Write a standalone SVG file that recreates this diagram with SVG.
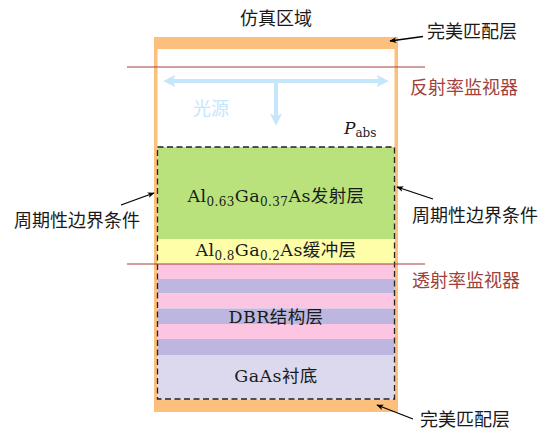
<svg xmlns="http://www.w3.org/2000/svg" width="552" height="432" viewBox="0 0 552 432">
  <defs>
    <style>
      text { font-family: "Noto Sans CJK SC", sans-serif; font-size: 18px; fill: #1a1a1a; }
      .layer { font-family: "DejaVu Serif", "Noto Sans CJK SC", serif; font-size: 17.5px; text-anchor: middle; letter-spacing: 0.4px; }
      .sub { font-size: 12px; }
      .math { font-family: "DejaVu Serif", serif; font-size: 17px; font-style: italic; }
      .math tspan { font-style: normal; font-size: 12px; }
      .mon { fill: #a0413c; }
      .src { fill: #c6e6fb; }
      .lead { stroke: #000; stroke-width: 1.3; fill: none; marker-end: url(#tip); }
      .monline { stroke: #a0413c; stroke-width: 1; }
      .beam { stroke: #c6e6fb; stroke-width: 4; fill: none; }
    </style>
    <marker id="tip" viewBox="0 0 10 10" refX="9" refY="5" markerWidth="7" markerHeight="7" orient="auto" markerUnits="userSpaceOnUse">
      <path d="M0,1 L10,5 L0,9 L2.5,5 Z" fill="#000"/>
    </marker>
    <marker id="btip" viewBox="0 0 10 10" refX="6" refY="5" markerWidth="3" markerHeight="3" orient="auto-start-reverse">
      <path d="M0,0 L10,5 L0,10 L2,5 Z" fill="#c6e6fb"/>
    </marker>
  </defs>

  <!-- simulation domain with PML frame -->
  <g id="domain">
    <rect x="154" y="37" width="244" height="375" fill="#fdbf7c"/>
    <rect x="157.5" y="49" width="237" height="351" fill="#ffffff"/>
    <text x="240" y="25">仿真区域</text>
  </g>

  <!-- layer stack -->
  <g id="emitter">
    <rect x="157.5" y="147" width="237" height="92" fill="#b9e27c"/>
    <text class="layer" x="276" y="202">Al<tspan class="sub" dy="3.5">0.63</tspan><tspan dy="-3.5">Ga</tspan><tspan class="sub" dy="3.5">0.37</tspan><tspan dy="-3.5">As发射层</tspan></text>
  </g>
  <g id="buffer">
    <rect x="157.5" y="239" width="237" height="25" fill="#fefea9"/>
    <text class="layer" x="276" y="256">Al<tspan class="sub" dy="3.5">0.8</tspan><tspan dy="-3.5">Ga</tspan><tspan class="sub" dy="3.5">0.2</tspan><tspan dy="-3.5">As缓冲层</tspan></text>
  </g>
  <g id="dbr">
    <rect x="157.5" y="264" width="237" height="15" fill="#fcc6e2"/>
    <rect x="157.5" y="279" width="237" height="14.5" fill="#bdb6df"/>
    <rect x="157.5" y="293.5" width="237" height="15" fill="#fcc6e2"/>
    <rect x="157.5" y="308.5" width="237" height="15.5" fill="#bdb6df"/>
    <rect x="157.5" y="324" width="237" height="15" fill="#fcc6e2"/>
    <rect x="157.5" y="339" width="237" height="16" fill="#bdb6df"/>
    <text class="layer" x="276" y="323" letter-spacing="1">DBR结构层</text>
  </g>
  <g id="substrate">
    <rect x="157.5" y="355" width="237" height="45" fill="#dcd8ee"/>
    <text class="layer" x="276" y="382" letter-spacing="1">GaAs衬底</text>
  </g>

  <!-- absorption box -->
  <g id="pabs">
    <rect x="157.5" y="147" width="237" height="252" fill="none" stroke="#222" stroke-width="1.3" stroke-dasharray="6,3.5"/>
    <text class="math" x="344" y="134">P<tspan dy="3">abs</tspan></text>
  </g>

  <!-- light source -->
  <g id="source">
    <line class="beam" x1="168" y1="81" x2="384" y2="81" marker-start="url(#btip)" marker-end="url(#btip)"/>
    <line class="beam" x1="276" y1="81" x2="276" y2="121" marker-end="url(#btip)"/>
    <text class="src" x="193" y="114.5">光源</text>
  </g>

  <!-- monitors -->
  <g id="reflection-monitor">
    <line class="monline" x1="127" y1="67" x2="425" y2="67"/>
    <text class="mon" x="410" y="94">反射率监视器</text>
  </g>
  <g id="transmission-monitor">
    <line class="monline" x1="127" y1="264" x2="425" y2="264"/>
    <text class="mon" x="412" y="287">透射率监视器</text>
  </g>

  <!-- annotation labels -->
  <g id="pml-top-label"><text x="427" y="38">完美匹配层</text></g>
  <g id="pml-bottom-label"><text x="420" y="426">完美匹配层</text></g>
  <g id="pbc-left-label"><text x="14" y="226.5">周期性边界条件</text></g>
  <g id="pbc-right-label"><text x="412" y="221.5">周期性边界条件</text></g>

  <!-- leader arrows -->
  <g id="connectors">
    <line class="lead" x1="423" y1="36.5" x2="390" y2="41"/>
    <line class="lead" x1="121" y1="205" x2="154" y2="193"/>
    <line class="lead" x1="433" y1="199" x2="397" y2="187"/>
    <line class="lead" x1="413" y1="419" x2="377" y2="405"/>
  </g>
</svg>
